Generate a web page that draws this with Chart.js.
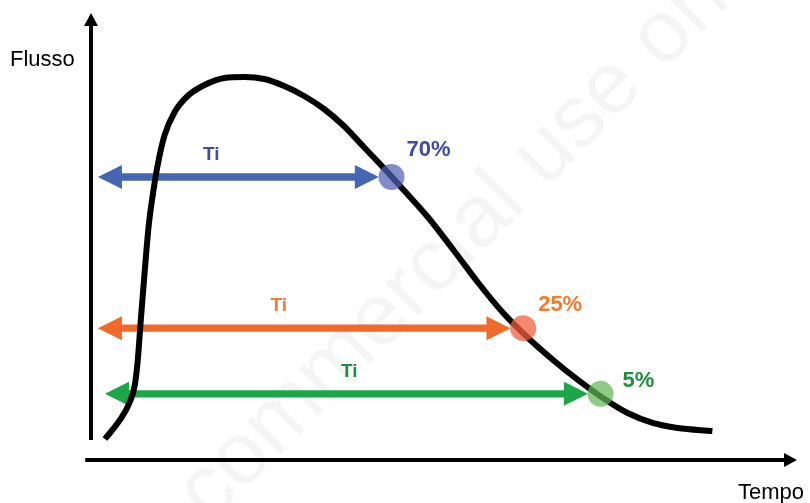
<!DOCTYPE html>
<html lang="it">
<head>
<meta charset="UTF-8">
<title>Flusso / Tempo</title>
<style>
  body { margin: 0; background: #fff; }
  .chart-container { width: 810px; height: 503px; position: relative; }
</style>
</head>
<body>
<div class="chart-container">
  <canvas id="chartCanvas" width="810" height="503"></canvas>
</div>
<script src="https://cdn.jsdelivr.net/npm/chart.js"></script>
<script>
  // flow curve, time and flow in arbitrary units (0-100)
  const timeValues = [1.70, 3.82, 5.23, 5.94, 6.36, 6.79, 7.36, 7.92, 8.49, 9.19, 10.18, 11.60, 13.44, 15.84,
    18.67, 21.50, 24.33, 27.16, 29.99, 32.82, 35.64, 38.47, 41.30, 44.13, 47.67, 51.20, 54.74, 58.27,
    61.81, 65.35, 68.88, 72.42, 75.95, 79.49, 83.03, 87.98];
  const flowValues = [4.70, 8.95, 12.98, 16.78, 22.37, 31.32, 42.51, 52.57, 59.28, 65.99, 72.71, 77.85, 81.43, 83.89,
    85.46, 85.68, 85.23, 83.67, 81.43, 78.52, 74.72, 70.02, 65.32, 60.40, 54.14, 46.98, 39.60, 32.89,
    27.29, 22.37, 17.90, 13.87, 10.51, 8.28, 7.16, 6.49];

  // the three Ti levels
  const levelNames = ['70%', '25%', '5%'];
  const levelFlow = [63.3, 29.5, 14.8];
  const levelTime = [42.4, 61.1, 72.1];
  const arrowStart = [0.7, 0.7, 1.7];
  const arrowEnd = [40.6, 59.3, 70.3];
  const tiTime = [16.8, 26.4, 36.4];

  const arrowColors = ['#4567B3', '#F26A2B', '#1BA648'];
  const textColors = ['#3F4CA6', '#F47A2E', '#1F8E3E'];
  const dotColors = ['rgba(80, 95, 180, 0.72)', 'rgba(240, 95, 60, 0.75)', 'rgba(95, 185, 85, 0.72)'];
  const pctOffset = [[15, -27], [15, -23], [22, -13]];   // px from the dot

  const FONT = '"Liberation Sans", Arial, sans-serif';

  function drawArrow(ctx, x1, x2, y, color) {
    const head = 24, half = 12, shaft = 3.7;
    ctx.fillStyle = color;
    ctx.beginPath();
    ctx.moveTo(x1, y);
    ctx.lineTo(x1 + head, y - half);
    ctx.lineTo(x1 + head, y - shaft);
    ctx.lineTo(x2 - head, y - shaft);
    ctx.lineTo(x2 - head, y - half);
    ctx.lineTo(x2, y);
    ctx.lineTo(x2 - head, y + half);
    ctx.lineTo(x2 - head, y + shaft);
    ctx.lineTo(x1 + head, y + shaft);
    ctx.lineTo(x1 + head, y + half);
    ctx.closePath();
    ctx.fill();
  }

  const watermark = {
    id: 'watermark',
    beforeDraw(chart) {
      const ctx = chart.ctx;
      ctx.save();
      ctx.translate(210, 524);
      ctx.rotate(-45 * Math.PI / 180);
      ctx.font = '88px ' + FONT;
      ctx.fillStyle = 'rgba(0, 0, 0, 0.04)';
      ctx.textBaseline = 'alphabetic';
      ctx.fillText('commercial use only', 0, 0);
      ctx.restore();
    }
  };

  const axesAndArrows = {
    id: 'axesAndArrows',
    beforeDatasetsDraw(chart) {
      const ctx = chart.ctx;
      const x = chart.scales.x, y = chart.scales.y;
      ctx.save();
      // axes
      const x0 = x.getPixelForValue(0) - 2, y0 = y.getPixelForValue(0);
      ctx.strokeStyle = '#000';
      ctx.fillStyle = '#000';
      ctx.lineWidth = 4;
      ctx.beginPath();
      ctx.moveTo(x0, y.getPixelForValue(4.5));
      ctx.lineTo(x0, y.getPixelForValue(100) + 12);
      ctx.moveTo(x.getPixelForValue(-1.1), y0);
      ctx.lineTo(x.getPixelForValue(100) - 12, y0);
      ctx.stroke();
      ctx.beginPath();
      ctx.moveTo(x0, y.getPixelForValue(100));
      ctx.lineTo(x0 - 7, y.getPixelForValue(100) + 13);
      ctx.lineTo(x0 + 7, y.getPixelForValue(100) + 13);
      ctx.closePath();
      ctx.moveTo(x.getPixelForValue(100), y0);
      ctx.lineTo(x.getPixelForValue(100) - 13, y0 - 7);
      ctx.lineTo(x.getPixelForValue(100) - 13, y0 + 7);
      ctx.closePath();
      ctx.fill();
      // Ti arrows
      levelFlow.forEach((f, i) => {
        drawArrow(ctx, x.getPixelForValue(arrowStart[i]), x.getPixelForValue(arrowEnd[i]),
          y.getPixelForValue(f), arrowColors[i]);
      });
      ctx.restore();
    },
    afterDatasetsDraw(chart) {
      const ctx = chart.ctx;
      const x = chart.scales.x, y = chart.scales.y;
      ctx.save();
      ctx.textBaseline = 'middle';
      levelFlow.forEach((f, i) => {
        const py = y.getPixelForValue(f);
        ctx.fillStyle = textColors[i];
        ctx.textAlign = 'center';
        ctx.font = 'bold 19px ' + FONT;
        ctx.fillText('Ti', x.getPixelForValue(tiTime[i]), py - 22);
        ctx.textAlign = 'left';
        ctx.font = 'bold 22px ' + FONT;
        ctx.fillText(levelNames[i], x.getPixelForValue(levelTime[i]) + pctOffset[i][0], py + pctOffset[i][1]);
      });
      ctx.fillStyle = '#000';
      ctx.font = '22px ' + FONT;
      ctx.textAlign = 'left';
      ctx.textBaseline = 'alphabetic';
      ctx.fillText('Flusso', 10, 66);
      ctx.fillText('Tempo', 738, 499);
      ctx.restore();
    }
  };

  const ctx = document.getElementById('chartCanvas').getContext('2d');
  const flowChart = new Chart(ctx, {
    type: 'line',
    data: {
      datasets: [
        {
          label: 'Ti',
          data: levelTime.map((t, i) => ({ x: t, y: levelFlow[i] })),
          showLine: false,
          pointRadius: 13,
          pointBorderWidth: 0,
          pointBackgroundColor: dotColors,
          order: 0
        },
        {
          label: 'Flusso',
          data: timeValues.map((t, i) => ({ x: t, y: flowValues[i] })),
          borderColor: '#000',
          borderWidth: 6,
          borderCapStyle: 'butt',
          cubicInterpolationMode: 'monotone',
          pointRadius: 0,
          fill: false,
          order: 1
        }
      ]
    },
    options: {
      responsive: false,
      animation: false,
      events: [],
      layout: { padding: { left: 93, right: 10, top: 13, bottom: 43 } },
      scales: {
        x: { type: 'linear', min: 0, max: 100, display: false },
        y: { type: 'linear', min: 0, max: 100, display: false }
      },
      plugins: {
        legend: { display: false },
        tooltip: { enabled: false }
      }
    },
    plugins: [watermark, axesAndArrows]
  });
</script>
</body>
</html>
